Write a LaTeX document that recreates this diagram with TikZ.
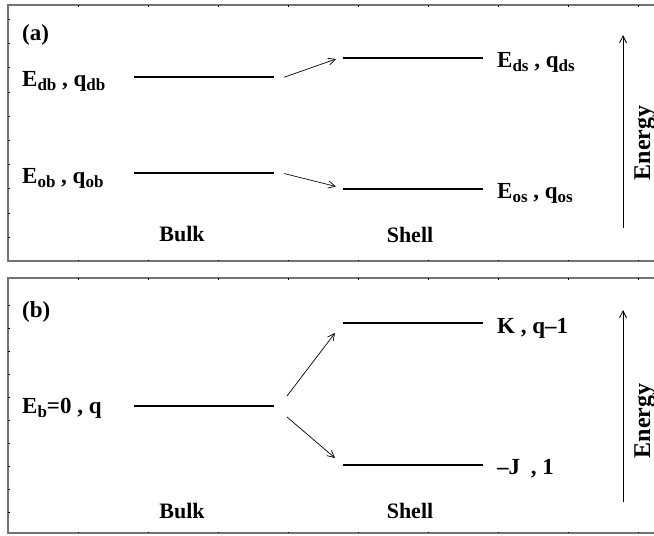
\documentclass[tikz,border=0pt]{standalone}
\usepackage{fontspec}
\setmainfont{Liberation Serif}
\usetikzlibrary{positioning,arrows.meta}

\newcommand{\lvsub}[1]{\raisebox{-4.5pt}{\fontsize{17}{19}\selectfont #1}}

\begin{document}
\begin{tikzpicture}[x=1pt,y=-1pt,font=\fontsize{22}{26}\selectfont\bfseries,
  >={Straight Barb[length=7pt,width=7pt]}]
\tikzstyle{frame}=[draw=black!55,line width=1.3pt]
\tikzstyle{tick}=[draw=black,line width=1pt]
\tikzstyle{level}=[draw=black,line width=1.5pt]
\tikzstyle{split}=[->,draw=black,line width=0.7pt]
\tikzstyle{axis}=[->,draw=black,line width=0.8pt]
\tikzstyle{state}=[anchor=base west,inner sep=0pt,font=\fontsize{23}{27}\selectfont\bfseries]
\tikzstyle{annot}=[anchor=base,inner sep=0pt]
\tikzstyle{axis label}=[anchor=base,rotate=90,inner sep=0pt,font=\fontsize{24}{28}\selectfont\bfseries]

\useasboundingbox (0,0) rectangle (654,536);
\clip (0,0) rectangle (654,536);

% Draw the two frames
\draw[frame] (8,5) rectangle (680,261);
\draw[frame] (8,278) rectangle (680,533);

% Tick marks on the frames
\foreach \x in {78,148,...,638} {
  \draw[tick] (\x,5) -- ++(0,1.5);
  \draw[tick] (\x,261) -- ++(0,-1.5);
  \draw[tick] (\x,278) -- ++(0,1.5);
  \draw[tick] (\x,533) -- ++(0,-1.5);
}
\foreach \k in {0,...,9} {
  \draw[tick] (8,19.5+24.2*\k) -- ++(1.5,0);
  \draw[tick] (8,305+23*\k) -- ++(1.5,0);
}

% Panel (a): level ends
\coordinate (DB-1) at (134,77);
\coordinate (DB-2) at (274,77);
\coordinate (OB-1) at (134,173);
\coordinate (OB-2) at (274,173);
\coordinate (DS-1) at (343,58);
\coordinate (DS-2) at (483,58);
\coordinate (OS-1) at (343,189);
\coordinate (OS-2) at (483,189);

\foreach \lev in {DB,OB,DS,OS}
\draw[level] (\lev-1) -- (\lev-2);

% Panel (a): arrows from bulk to shell
\coordinate (A1-s) at (284,77.3);
\coordinate (A1-e) at (336,59);
\coordinate (A2-s) at (284,173.5);
\coordinate (A2-e) at (336,186.5);
\draw[split] (A1-s) -- (A1-e);
\draw[split] (A2-s) -- (A2-e);

% Panel (a): labels
\node[state] (La) at (22,40) {(a)};
\node[state] (Ldb) at (22,86) {E\lvsub{db} , q\lvsub{db}};
\node[state] (Lob) at (22,183) {E\lvsub{ob} , q\lvsub{ob}};
\node[state] (Lds) at (497,67) {E\lvsub{ds} , q\lvsub{ds}};
\node[state] (Los) at (497,198) {E\lvsub{os} , q\lvsub{os}};
\node[annot] (Bulk-a) at (182,241) {Bulk};
\node[annot] (Shell-a) at (410,242) {Shell};

% Panel (a): energy axis
\coordinate (EA-s) at (623,228);
\coordinate (EA-e) at (623,35);
\draw[axis] (EA-s) -- (EA-e);
\node[axis label] (En-a) at (650,143) {Energy};

% Panel (b): level ends
\coordinate (B-1) at (134,406);
\coordinate (B-2) at (274,406);
\coordinate (K-1) at (343,323);
\coordinate (K-2) at (483,323);
\coordinate (J-1) at (343,465);
\coordinate (J-2) at (483,465);

\foreach \lev in {B,K,J}
\draw[level] (\lev-1) -- (\lev-2);

% Panel (b): arrows from bulk to shell
\coordinate (B1-s) at (287,396);
\coordinate (B1-e) at (335,333);
\coordinate (B2-s) at (287,417);
\coordinate (B2-e) at (335,458);
\draw[split] (B1-s) -- (B1-e);
\draw[split] (B2-s) -- (B2-e);

% Panel (b): labels
\node[state] (Lb) at (22,317) {(b)};
\node[state] (Leb) at (22,413) {E\lvsub{b}=0 , q};
\node[state] (LK) at (497,333) {K , q--1};
\node[state] (LJ) at (497,474) {--J\hspace{5pt} , 1};
\node[annot] (Bulk-b) at (182,518) {Bulk};
\node[annot] (Shell-b) at (410,518) {Shell};

% Panel (b): energy axis
\coordinate (EB-s) at (623,502);
\coordinate (EB-e) at (623,310);
\draw[axis] (EB-s) -- (EB-e);
\node[axis label] (En-b) at (650,421) {Energy};

\end{tikzpicture}
\end{document}
